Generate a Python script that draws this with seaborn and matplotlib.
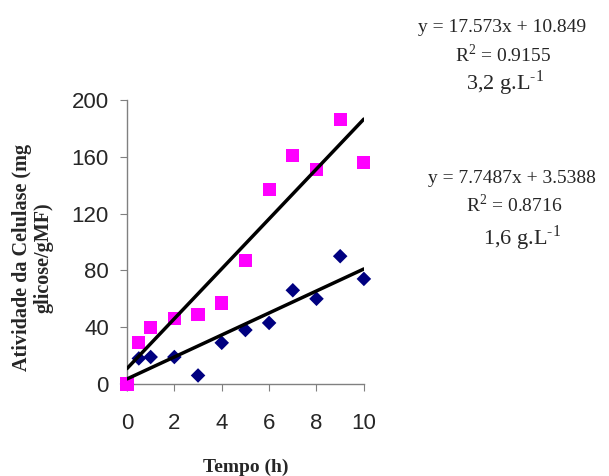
import numpy as np
import pandas as pd
import matplotlib.pyplot as plt
import seaborn as sns

sns.set_style("white")
plt.rcParams['font.family'] = ['Liberation Sans', 'DejaVu Sans']
plt.rcParams['mathtext.fontset'] = 'custom'
plt.rcParams['mathtext.rm'] = 'Liberation Serif'

# Data
tempo = [0, 0.5, 1, 2, 3, 4, 5, 6, 7, 8, 9, 10]
atividade_32 = [0, 29, 40, 46, 49, 57, 87, 137, 161, 151, 186, 156]
atividade_16 = [0, 18, 19, 19, 6, 29, 38, 43, 66, 60, 90, 74]

# Trend lines (from the equations shown)
slopes = [17.573, 7.7487]
intercepts = [10.849, 3.5388]
r2 = [0.9155, 0.8716]
labels = ['3,2', '1,6']

df = pd.DataFrame({
    'tempo': tempo * 2,
    'atividade': atividade_32 + atividade_16,
    'conc': ['3,2'] * len(tempo) + ['1,6'] * len(tempo),
})

fig = plt.figure(figsize=(6.09, 4.76), dpi=100)
ax = fig.add_axes([0.2085, 0.1933, 0.389, 0.5966])

sns.scatterplot(data=df[df['conc'] == '1,6'], x='tempo', y='atividade', marker='D',
                color='#000080', s=55, edgecolor='none', ax=ax, clip_on=False, zorder=3)
sns.scatterplot(data=df[df['conc'] == '3,2'], x='tempo', y='atividade', marker='s',
                color='#FF00FF', s=90, edgecolor='none', ax=ax, clip_on=False, zorder=3)

x_fit = np.array([0, 10])
for m, b in zip(slopes, intercepts):
    sns.lineplot(x=x_fit, y=m * x_fit + b, color='black', linewidth=2.5, ax=ax, zorder=4)

ax.set_xlim(0, 10)
ax.set_ylim(0, 200)
ax.set_xticks([0, 2, 4, 6, 8, 10])
ax.set_yticks([0, 40, 80, 120, 160, 200])
ax.tick_params(axis='both', labelsize=16, length=5, direction='out', color='#808080',
               left=True, bottom=True)
ax.tick_params(axis='x', pad=16)
ax.tick_params(axis='y', pad=8)
for s in ['top', 'right']:
    ax.spines[s].set_visible(False)
for s in ['left', 'bottom']:
    ax.spines[s].set_color('#808080')
    ax.spines[s].set_linewidth(1)

ax.set_xlabel('Tempo (h)', family='Liberation Serif', fontweight='bold', fontsize=14)
ax.xaxis.set_label_coords(0.502, -0.292)
ax.xaxis.label.set_va('center')
ax.set_ylabel('Atividade da Celulase (mg\nglicose/gMF)', family='Liberation Serif',
              fontweight='bold', fontsize=14.5, linespacing=1.1)
ax.yaxis.set_label_coords(-0.397, 0.445)
ax.yaxis.label.set_va('center')

# Equation annotations (baselines and centres in pixels)
baselines = [(32, 62, 90), (183, 212, 245)]
centres = [(502, 503, 505), (512, 514, 522)]
for i in range(2):
    bx = [c / 609 for c in centres[i]]
    by = [1 - b / 476 for b in baselines[i]]
    fig.text(bx[0], by[0], f'y = {slopes[i]}x + {intercepts[i]}', ha='center', va='baseline',
             family='Liberation Serif', fontsize=14)
    fig.text(bx[1], by[1], f'R$^2$ = {r2[i]}', ha='center', va='baseline',
             family='Liberation Serif', fontsize=14)
    fig.text(bx[2], by[2], labels[i] + ' g.L$^{\u20101}$', ha='center', va='baseline',
             family='Liberation Serif', fontsize=16)

fig.savefig('out.png', dpi=100)
